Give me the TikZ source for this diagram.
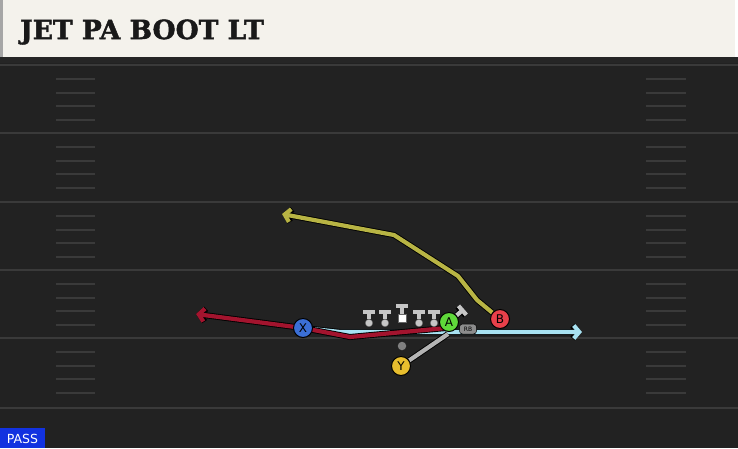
\documentclass[tikz,border=0pt]{standalone}
\usepackage{fontspec}
\setmainfont{DejaVu Sans}
\newfontfamily\titlefont{DejaVu Serif}[BoldFeatures={FakeBold=1.6}]
\usetikzlibrary{arrows.meta}
\pgfdeclarelayer{turf}
\pgfdeclarelayer{paths}
\pgfsetlayers{turf,paths,main}
\definecolor{field}{HTML}{222222}
\definecolor{yardline}{HTML}{3A3A3A}
\definecolor{paper}{HTML}{F4F2EC}
\definecolor{passblue}{HTML}{1232E0}
\definecolor{xblue}{HTML}{3B6FD6}
\definecolor{agreen}{HTML}{5FD83A}
\definecolor{bred}{HTML}{E8404A}
\definecolor{yyellow}{HTML}{E8BE2E}
\definecolor{jetblue}{HTML}{A8E2F2}
\definecolor{postred}{HTML}{A3142E}
\definecolor{flatolive}{HTML}{B8B444}
\definecolor{blockgray}{HTML}{B4B4B4}
\definecolor{linegray}{HTML}{C6C6C6}
\tikzset{
  player/.style={circle,draw=black,line width=1pt,minimum size=19pt,inner sep=0pt,font=\fontsize{12}{12}\selectfont},
  route/.style={line width=4.2pt,line join=round,preaction={draw=black,line width=6pt}},
  tip/.style={-{Straight Barb[length=5.5pt,width=13pt]}},
  oline/.style={circle,fill=linegray,draw=black!60,line width=0.4pt,minimum size=7.5pt,inner sep=0pt},
  stem/.style={draw=linegray,line width=3.4pt},
  tbar/.style={draw=linegray,line width=4.6pt}
}
\begin{document}
\begin{tikzpicture}[x=1pt,y=-1pt]
	\useasboundingbox (0,0) rectangle (738,448);
	\begin{pgfonlayer}{turf}
	% field
	\fill[field] (0,58) rectangle (738,448);
	\fill[black!85] (0,57) rectangle (738,63);
	\foreach \y in {65,133,202,270,338,408}
		\draw[yardline,line width=1.8pt] (0,\y) -- (738,\y);
	\foreach \y in {65,133,202,270,338}
		\foreach \d in {14,28,41,55} {
			\draw[yardline,line width=1.3pt] (56,\y+\d) -- (95,\y+\d);
			\draw[yardline,line width=1.3pt] (646,\y+\d) -- (686,\y+\d);
		}
	% title bar
	\fill[paper] (0,0) rectangle (735,57);
	\fill[black!35] (0,0) rectangle (3,57);
	\end{pgfonlayer}
	\draw (20,32) node [anchor=west,inner sep=0pt,font=\titlefont\bfseries\fontsize{26.5}{26.5}\selectfont,text=black!90] (title) {JET PA BOOT LT};
	% pass tag
	\fill[passblue] (0,428) rectangle (45,448);
	\draw (22.5,438.5) node [text=white,font=\fontsize{12.5}{12.5}\selectfont,inner sep=0pt] (pass) {PASS};

	% line
	\foreach \x/\n in {369/lt,385/lg,419/rg,434/rt} {
		\draw (\x,323) node [oline] (\n) {};
		\coordinate (\n t) at (\x,312);
		\draw[stem] (\n) -- (\n t);
		\draw[tbar] ([xshift=-6pt]\n t) -- ([xshift=6pt]\n t);
	}
	\draw (402,318) node [fill=white,draw=black!60,line width=0.4pt,minimum size=7.5pt,inner sep=0pt] (c) {};
	\coordinate (c t) at (402,306);
	\draw[stem] (c) -- (c t);
	\draw[tbar] ([xshift=-6pt]c t) -- ([xshift=6pt]c t);

	% players
	\draw (303,328) node [player,fill=xblue] (X) {X};
	\draw (449,322) node [player,fill=agreen] (A) {A};
	\draw (500,319) node [player,fill=bred] (B) {B};
	\draw (401,366) node [player,fill=yyellow] (Y) {Y};
	\draw (402,346) node [circle,fill=black!50,minimum size=8.5pt,inner sep=0pt] (qb) {};
	\draw (468,329) node [rounded corners=3pt,fill=black!45,draw=black,line width=0.5pt,minimum width=17pt,minimum height=10pt,inner sep=0pt,font=\fontsize{6}{6}\selectfont] (rb) {RB};
	\coordinate (jet end) at (582,332);
	\coordinate (post end) at (196,314);
	\coordinate (post dip) at (350,337);
	\coordinate (post in) at (446,328);
	\coordinate (flat a) at (477,300);
	\coordinate (flat b) at (458,276);
	\coordinate (flat c) at (394,235);
	\coordinate (flat end) at (282,214);
	\coordinate (boot) at (448,334);
	\coordinate (block) at (464,309);

	% routes
	\begin{pgfonlayer}{paths}
	\draw[route,tip,jetblue] (X.center) -- (340,332) -- (jet end);
	\draw[route,tip,postred] (post in) -- (post dip) -- (X.center) -- (post end);
	\draw[route,tip,flatolive] (B) -- (flat a) -- (flat b) -- (flat c) -- (flat end);
	\draw[route,blockgray] (Y) -- (boot);
	\draw[route,linegray,-{Bar[width=12pt]}] (A) -- (block);
	\end{pgfonlayer}
\end{tikzpicture}
\end{document}
